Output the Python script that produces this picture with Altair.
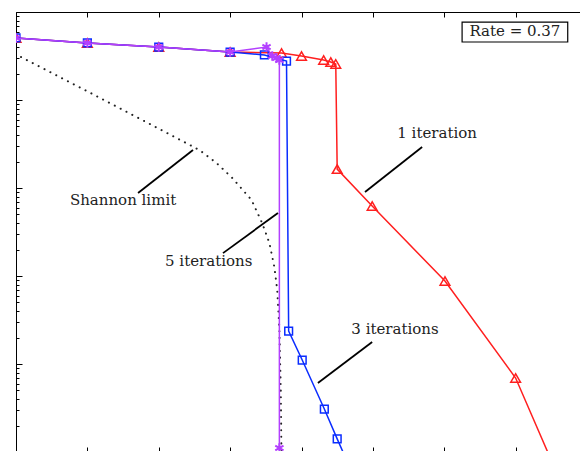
import altair as alt
import pandas as pd

# ---------------- data ----------------
x_ticks = [0, 1, 2, 3, 4, 5, 6, 7, 8]
y_ticks = [m * 10.0 ** k for k in range(-6, 1) for m in range(1, 10) if 1e-5 <= m * 10.0 ** k <= 1.0]

red_x = [0, 1, 2, 3, 3.72, 4.0, 4.31, 4.41, 4.48, 4.50, 4.99, 6.01, 7.0, 8.0]
red_y = [0.507, 0.445, 0.400, 0.351, 0.342, 0.316, 0.285, 0.270, 0.257, 0.0164, 6.24e-3, 8.77e-4, 6.93e-5, 9.3e-7]

blue_x = [0, 1, 2, 3, 3.48, 3.79, 3.82, 4.01, 4.32, 4.50, 5.0]
blue_y = [0.507, 0.445, 0.400, 0.351, 0.325, 0.277, 2.37e-4, 1.11e-4, 3.08e-5, 1.41e-5, 1.7e-6]

mag_x = [0, 1, 2, 3, 3.51, 3.59, 3.65, 3.69, 3.69]
mag_y = [0.507, 0.445, 0.400, 0.351, 0.400, 0.316, 0.300, 0.285, 1.11e-5]

shan_x = [0.07, 1.02, 2.01, 2.57, 2.81, 3.03, 3.30, 3.45, 3.55, 3.62, 3.66, 3.69, 3.71, 3.72]
shan_y = [0.308, 0.123, 0.0468, 0.0270, 0.0192, 0.0130, 7.31e-3, 3.98e-3, 2.37e-3, 1.26e-3, 6.92e-4, 2.51e-4, 5.0e-5, 7.9e-6]

label_text = ["Shannon limit", "5 iterations", "1 iteration", "3 iterations"]
label_x = [1.50, 2.70, 5.90, 5.31]
label_y = [7.31e-3, 1.48e-3, 0.0422, 2.5e-4]

pointer_x = [1.71, 2.90, 4.89, 4.23]
pointer_y = [8.77e-3, 1.82e-3, 9.02e-3, 6.08e-5]
pointer_x2 = [2.48, 3.67, 5.69, 4.99]
pointer_y2 = [0.0270, 5.20e-3, 0.0292, 1.78e-4]

rate_text = ["Rate = 0.37"]
rate_box_x = [6.25]
rate_box_x2 = [7.73]
rate_box_y = [0.769]
rate_box_y2 = [0.456]
rate_text_x = [6.99]
rate_text_y = [0.608]

# ---------------- chart ----------------
W, H = 571, 440
xs = alt.Scale(domain=[0, 8], nice=False, zero=False)
ys = alt.Scale(type="log", domain=[1e-5, 1], nice=False)


def frame(xv, yv):
    return pd.DataFrame({"x": xv, "y": yv, "i": list(range(len(xv)))})


X = alt.X("x:Q", scale=xs, axis=None)
Y = alt.Y("y:Q", scale=ys, axis=None)

RED, BLUE, MAG = "#ff1f1f", "#0a2cff", "#b340ff"
STAR = "M0,-1L0,1M-0.87,-0.5L0.87,0.5M-0.87,0.5L0.87,-0.5"


def series(xv, yv, color, shape, size, sw=1.5):
    d = alt.Chart(frame(xv, yv))
    ln = d.mark_line(color=color, strokeWidth=1.5, clip=True).encode(x=X, y=Y, order="i:Q")
    pt = d.mark_point(shape=shape, size=size, color=color, filled=False,
                      strokeWidth=sw, opacity=1, clip=True).encode(x=X, y=Y)
    return [ln, pt]


shannon = alt.Chart(frame(shan_x, shan_y)).mark_line(
    color="#222222", strokeWidth=2, strokeDash=[0.1, 6.5], strokeCap="round", clip=True
).encode(x=X, y=Y, order="i:Q")

pointers = alt.Chart(pd.DataFrame({"x": pointer_x, "y": pointer_y, "x2": pointer_x2, "y2": pointer_y2})).mark_rule(
    color="black", strokeWidth=1.8
).encode(x=X, y=Y, x2="x2:Q", y2="y2:Q")

labels = alt.Chart(pd.DataFrame({"x": label_x, "y": label_y, "t": label_text})).mark_text(
    font="DejaVu Serif", fontSize=15, color="#222222", align="center", baseline="middle"
).encode(x=X, y=Y, text="t:N")

box = alt.Chart(pd.DataFrame({"x": rate_box_x, "x2": rate_box_x2, "y": rate_box_y, "y2": rate_box_y2})).mark_rect(
    fill="white", stroke="black", strokeWidth=1.2
).encode(x=X, x2="x2:Q", y=Y, y2="y2:Q")

box_text = alt.Chart(pd.DataFrame({"x": rate_text_x, "y": rate_text_y, "t": rate_text})).mark_text(
    font="DejaVu Serif", fontSize=15, color="#222222", align="center", baseline="middle"
).encode(x=X, y=Y, text="t:N")

TEST = "abs(log(datum.value)/LN10 - round(log(datum.value)/LN10)) < 0.001"
ytick = {"condition": {"test": TEST, "value": 6}, "value": 3}

common = dict(labels=False, title=None, grid=False, domain=False, tickColor="black", tickWidth=1)

ax_a = alt.Chart(pd.DataFrame({"x": [0], "y": [1]})).mark_point(opacity=0).encode(
    x=alt.X("x:Q", scale=xs, axis=alt.Axis(orient="bottom", offset=-H, values=x_ticks, tickSize=5, **common)),
    y=alt.Y("y:Q", scale=ys, axis=alt.Axis(orient="right", offset=-W, values=y_ticks, tickSize=ytick, **common)),
)
ax_b = alt.Chart(pd.DataFrame({"x": [0], "y": [1]})).mark_point(opacity=0).encode(
    x=alt.X("x:Q", scale=xs, axis=alt.Axis(orient="top", offset=-H, values=x_ticks, tickSize=5, **common)),
    y=alt.Y("y:Q", scale=ys, axis=alt.Axis(orient="left", offset=-W, values=y_ticks, tickSize=ytick, **common)),
)

layers = [ax_a, ax_b, shannon]
layers += series(red_x, red_y, RED, "triangle-up", 95)
layers += series(blue_x, blue_y, BLUE, "square", 60)
layers += series(mag_x, mag_y, MAG, STAR, 90, 2)
layers += [pointers, labels, box, box_text]

chart = alt.layer(*layers).resolve_axis(x="independent", y="independent").properties(
    width=W, height=H, autosize="none",
    padding={"left": 8, "top": 4, "right": -7, "bottom": -1},
    background="white",
).configure_view(stroke="black", strokeWidth=1)

chart.save("out.html", embed_options={"renderer": "svg", "actions": False})
